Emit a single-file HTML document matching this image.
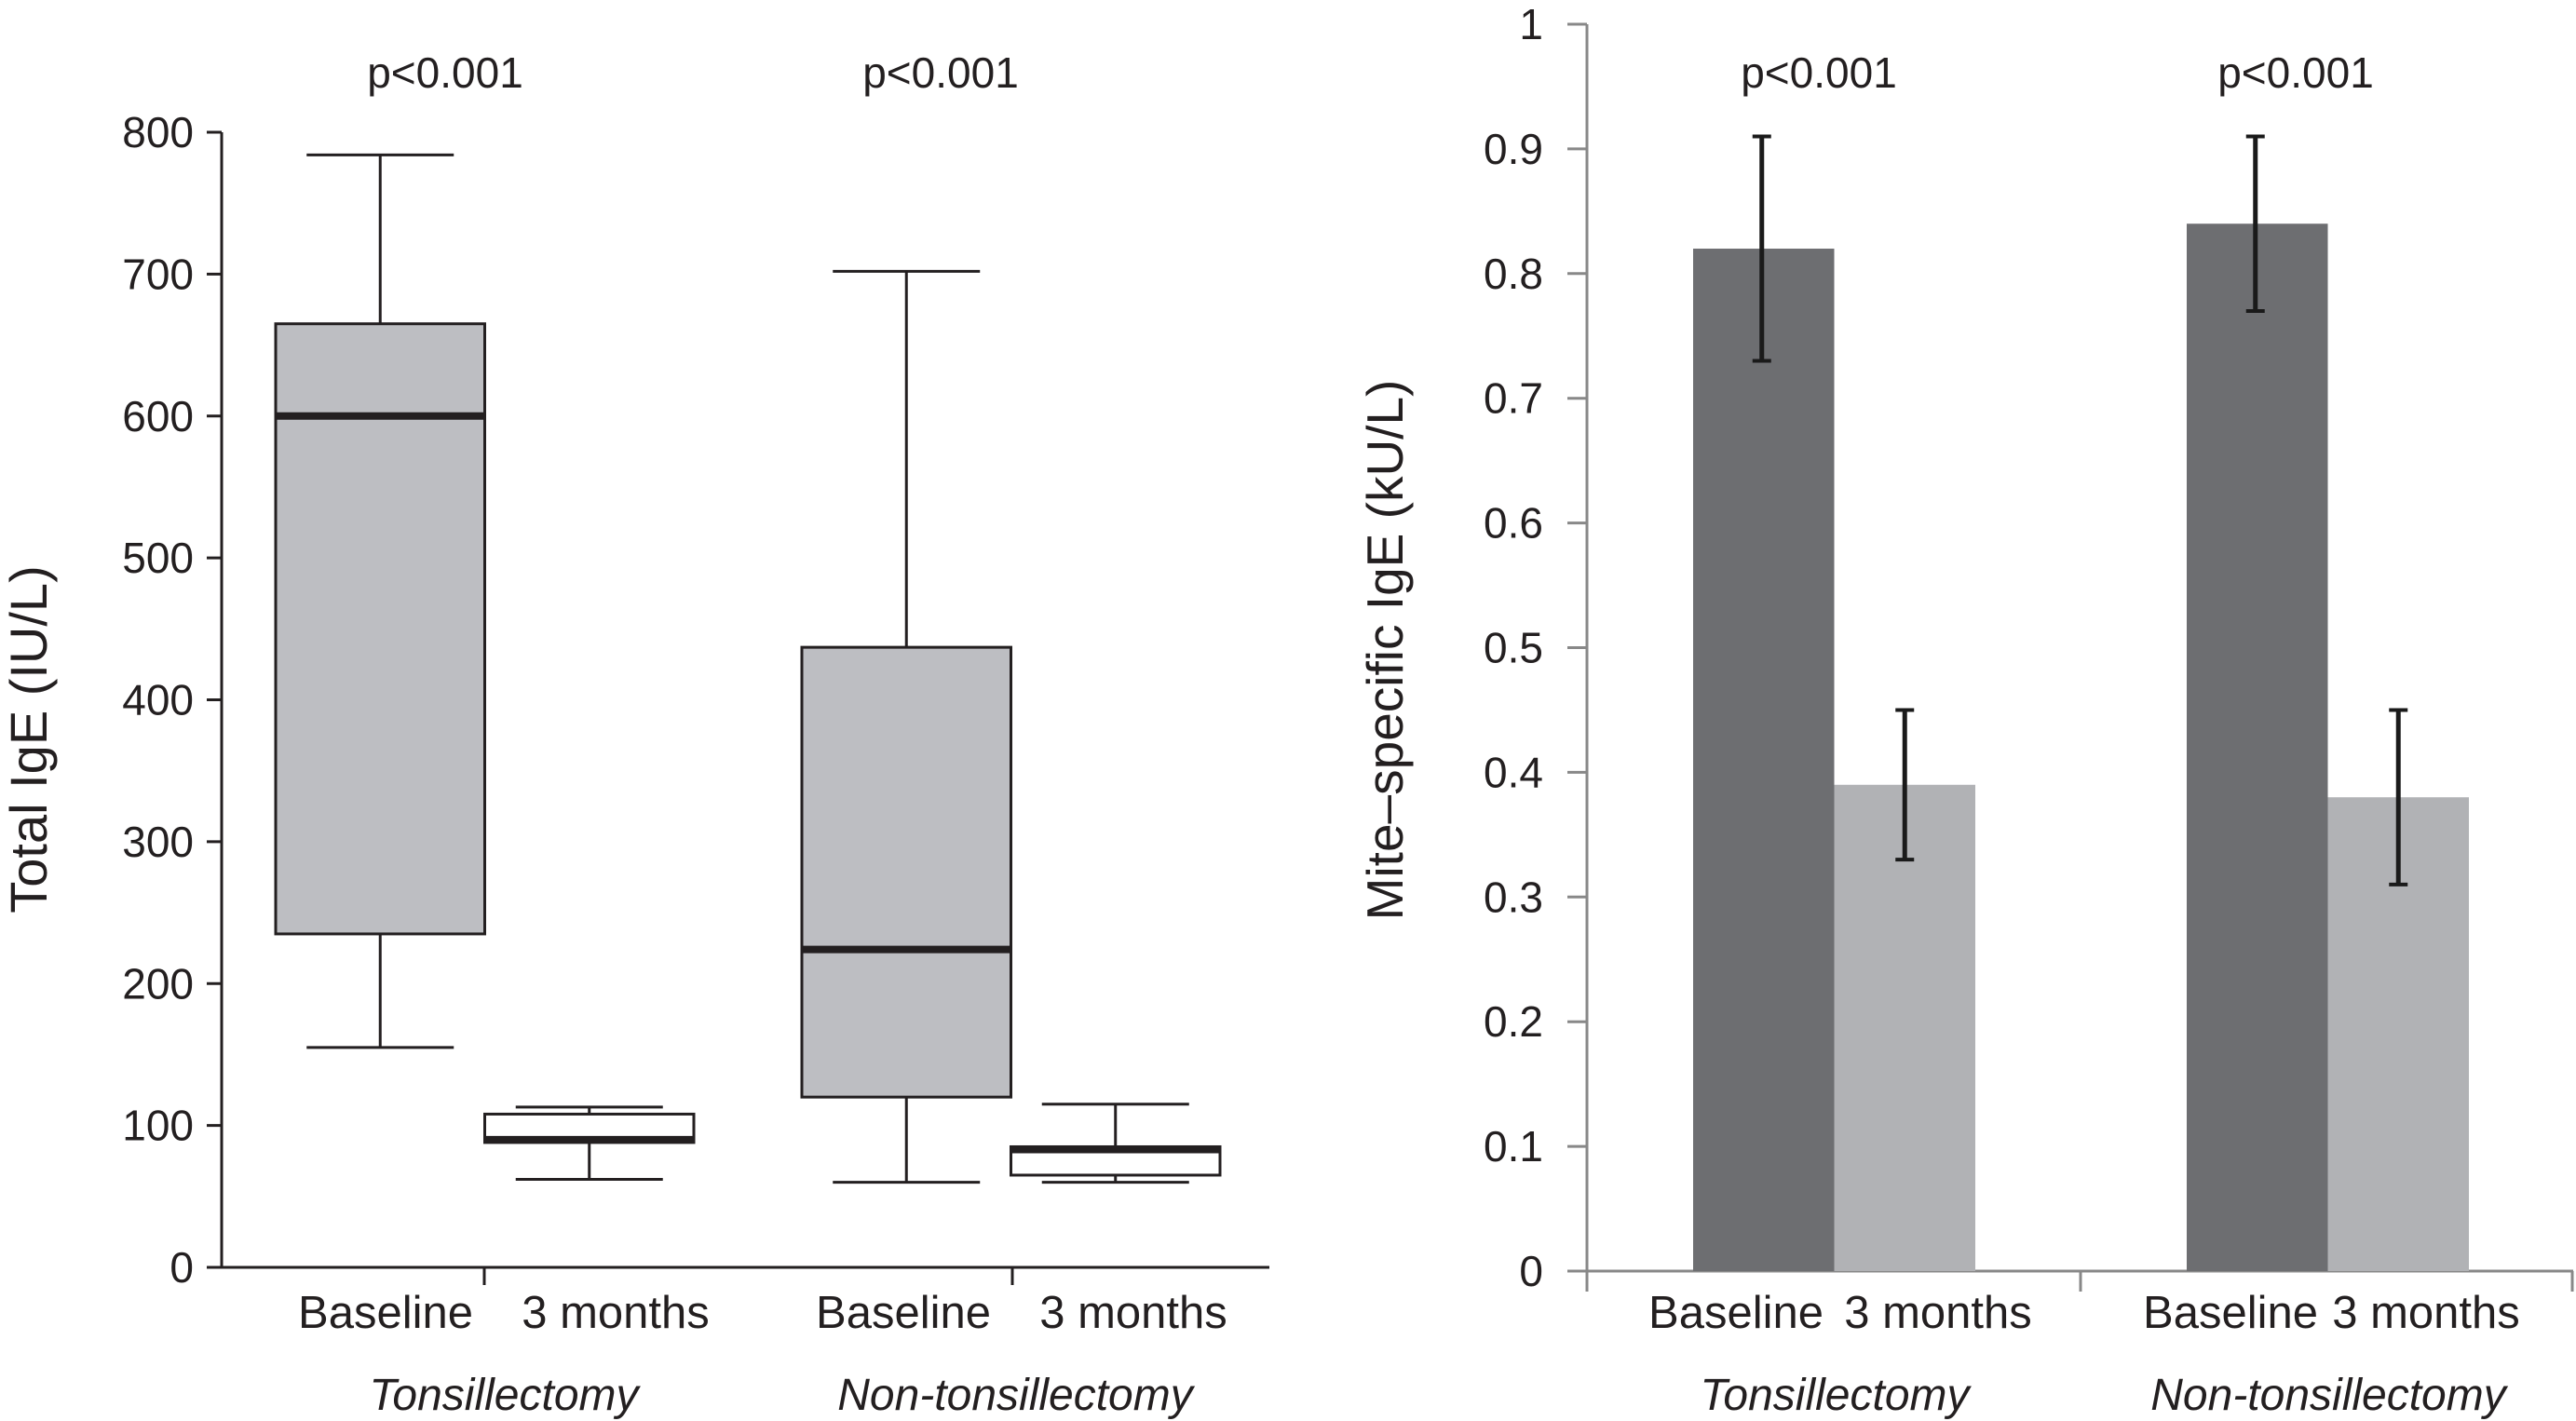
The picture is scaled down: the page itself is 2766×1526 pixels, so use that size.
<!DOCTYPE html>
<html><head><meta charset="utf-8"><style>
html,body{margin:0;padding:0;background:#fff}
svg{display:block}
text{font-family:"Liberation Sans",Arial,sans-serif;fill:#231f20}
</style></head><body>
<svg id="c" width="2766" height="1526" viewBox="0 0 2766 1526" xmlns="http://www.w3.org/2000/svg">
<g id="left"></g>
<g id="right"></g>
</svg>
<script>
// Left chart data
const boxCategories = ["Tonsillectomy Baseline","Tonsillectomy 3 months","Non-tonsillectomy Baseline","Non-tonsillectomy 3 months"];
const boxWhiskerLow = [155, 62, 60, 60];
const boxQ1 = [235, 88, 120, 65];
const boxMedian = [600, 90, 224, 83];
const boxQ3 = [665, 108, 437, 85];
const boxWhiskerHigh = [784, 113, 702, 115];
const boxFills = ["#bdbec2","#ffffff","#bdbec2","#ffffff"];
const leftTicks = [0,100,200,300,400,500,600,700,800];
// Right chart data
const barCategories = ["Tonsillectomy Baseline","Tonsillectomy 3 months","Non-tonsillectomy Baseline","Non-tonsillectomy 3 months"];
const barValues = [0.82, 0.39, 0.84, 0.38];
const barErrLow = [0.73, 0.33, 0.77, 0.31];
const barErrHigh = [0.91, 0.45, 0.91, 0.45];
const rightTicks = [0,0.1,0.2,0.3,0.4,0.5,0.6,0.7,0.8,0.9,1];
const rightTickLabels = ["0","0.1","0.2","0.3","0.4","0.5","0.6","0.7","0.8","0.9","1"];

const NS="http://www.w3.org/2000/svg";
function mk(parent,tag,attrs,txt){const e=document.createElementNS(NS,tag);for(const k in attrs)e.setAttribute(k,attrs[k]);if(txt!==undefined)e.textContent=txt;parent.appendChild(e);return e;}

// LEFT
const L=document.getElementById('left');
const ly=v=>1361-(v/800)*(1361-142);
const lx0=296, lbw=224.5;
const lxs=i=>lx0+i*lbw+(i>=2?116:0);
let e;
e=mk(L,'line',{x1:238,y1:142,x2:238,y2:1361,stroke:'#231f20','stroke-width':3});

e=mk(L,'line',{x1:238,y1:1361,x2:1363,y2:1361,stroke:'#231f20','stroke-width':3});

[520,1087].forEach(x=>{e=mk(L,'line',{x1:x,y1:1361,x2:x,y2:1380,stroke:'#231f20','stroke-width':3});
});
leftTicks.forEach(t=>{
 e=mk(L,'line',{x1:222,y1:ly(t),x2:238,y2:ly(t),stroke:'#231f20','stroke-width':3});
 
 e=mk(L,'text',{x:208,y:ly(t)+16,'text-anchor':'end','font-size':46},String(t));
 
});
boxCategories.forEach((c,i)=>{
 const x=lxs(i), cx=x+lbw/2, cap=79;
 const g=mk(L,'g',{});
 
 mk(g,'line',{x1:cx,y1:ly(boxWhiskerHigh[i]),x2:cx,y2:ly(boxQ3[i]),stroke:'#231f20','stroke-width':3});
 mk(g,'line',{x1:cx,y1:ly(boxWhiskerLow[i]),x2:cx,y2:ly(boxQ1[i]),stroke:'#231f20','stroke-width':3});
 mk(g,'line',{x1:cx-cap,y1:ly(boxWhiskerHigh[i]),x2:cx+cap,y2:ly(boxWhiskerHigh[i]),stroke:'#231f20','stroke-width':3});
 mk(g,'line',{x1:cx-cap,y1:ly(boxWhiskerLow[i]),x2:cx+cap,y2:ly(boxWhiskerLow[i]),stroke:'#231f20','stroke-width':3});
 mk(g,'rect',{x:x,y:ly(boxQ3[i]),width:lbw,height:ly(boxQ1[i])-ly(boxQ3[i]),fill:boxFills[i],stroke:'#231f20','stroke-width':3});
 mk(g,'line',{x1:x,y1:ly(boxMedian[i]),x2:x+lbw,y2:ly(boxMedian[i]),stroke:'#231f20','stroke-width':8});
});
const lLabels=[["Baseline",414],["3 months",661],["Baseline",970],["3 months",1217]];
lLabels.forEach(([t,x])=>{e=mk(L,'text',{x:x,y:1426,'text-anchor':'middle','font-size':49},t);
});
[["Tonsillectomy",541],["Non-tonsillectomy",1090]].forEach(([t,x])=>{e=mk(L,'text',{x:x,y:1514,'text-anchor':'middle','font-size':48,'font-style':'italic'},t);
});
[478,1010].forEach(x=>{e=mk(L,'text',{x:x,y:94,'text-anchor':'middle','font-size':46},'p<0.001');
});
e=mk(L,'text',{x:0,y:0,'text-anchor':'middle','font-size':56,transform:'translate(50,794) rotate(-90)'},'Total IgE (IU/L)');


// RIGHT
const R=document.getElementById('right');
const ry=v=>1365-v*(1365-26);
const rbw=151.5;
const rxs=i=>1818+i*rbw+(i>=2?227:0);
e=mk(R,'line',{x1:1704,y1:26,x2:1704,y2:1387,stroke:'#888','stroke-width':3});

e=mk(R,'line',{x1:1683,y1:1365,x2:2763,y2:1365,stroke:'#888','stroke-width':3});

[2234,2762].forEach(x=>{e=mk(R,'line',{x1:x,y1:1365,x2:x,y2:1387,stroke:'#888','stroke-width':3});
});
rightTicks.forEach((t,k)=>{
 e=mk(R,'line',{x1:1683,y1:ry(t),x2:1704,y2:ry(t),stroke:'#888','stroke-width':3});
 
 e=mk(R,'text',{x:1657,y:ry(t)+16,'text-anchor':'end','font-size':46},rightTickLabels[k]);
 
});
barCategories.forEach((c,i)=>{
 const x=rxs(i), cx=x+rbw/2-(i%2==0?2:0);
 e=mk(R,'rect',{x:x,y:ry(barValues[i]),width:rbw,height:ry(0)-ry(barValues[i]),fill:i%2==0?'#6d6e71':'#b1b2b5'});
 
 const g=mk(R,'g',{});
 
 mk(g,'line',{x1:cx,y1:ry(barErrHigh[i]),x2:cx,y2:ry(barErrLow[i]),stroke:'#1a1a1a','stroke-width':5});
 mk(g,'line',{x1:cx-10,y1:ry(barErrHigh[i]),x2:cx+10,y2:ry(barErrHigh[i]),stroke:'#1a1a1a','stroke-width':4});
 mk(g,'line',{x1:cx-10,y1:ry(barErrLow[i]),x2:cx+10,y2:ry(barErrLow[i]),stroke:'#1a1a1a','stroke-width':4});
});
[["Baseline",1864],["3 months",2081],["Baseline",2395],["3 months",2605]].forEach(([t,x])=>{e=mk(R,'text',{x:x,y:1426,'text-anchor':'middle','font-size':49},t);
});
[["Tonsillectomy",1970],["Non-tonsillectomy",2500]].forEach(([t,x])=>{e=mk(R,'text',{x:x,y:1514,'text-anchor':'middle','font-size':48,'font-style':'italic'},t);
});
[1953,2465].forEach(x=>{e=mk(R,'text',{x:x,y:94,'text-anchor':'middle','font-size':46},'p<0.001');
});
e=mk(R,'text',{x:0,y:0,'text-anchor':'middle','font-size':55,transform:'translate(1506,698) rotate(-90)'},'Mite\u2013specific IgE (kU/L)');

</script>
</body></html>
